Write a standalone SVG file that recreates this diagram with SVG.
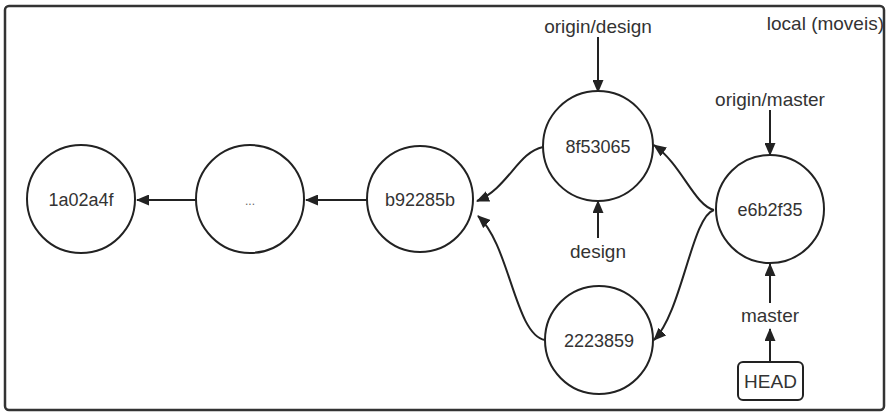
<svg xmlns="http://www.w3.org/2000/svg" width="888" height="415" viewBox="0 0 888 415">
<defs>
<marker id="ah" viewBox="0 0 13 11" refX="12" refY="5.5" markerWidth="13" markerHeight="11" markerUnits="userSpaceOnUse" orient="auto">
<path d="M0,0 L13,5.5 L0,11 Z" fill="#222"/>
</marker>
<style>
.n{fill:#fff;stroke:#222;stroke-width:2}
.t{font-family:"Liberation Sans",Arial,sans-serif;font-size:18px;fill:#333;text-anchor:middle}
.l{font-size:19px}
.c{fill:none;stroke:#222;stroke-width:2;marker-end:url(#ah)}
</style>
</defs>
<rect x="0" y="0" width="888" height="415" fill="#fff"/>
<rect id="frame" x="5" y="6" width="879" height="404" rx="4" fill="#fff" stroke="#333" stroke-width="2.5"/>
<text class="t l" x="884" y="30" style="text-anchor:end">local (moveis)</text>
<g id="connectors">
<line class="c" x1="197" y1="200" x2="137" y2="200"/>
<line class="c" x1="367" y1="200" x2="306" y2="200"/>
<path class="c" d="M543,147 C518,152 508,188 477,201"/>
<path class="c" d="M545,340 C515,335 510,245 478,216"/>
<path class="c" d="M714,210 C694,205 682,165 654,145"/>
<path class="c" d="M714,210 C692,216 682,312 654,340"/>
<line class="c" x1="598" y1="37" x2="598" y2="92"/>
<line class="c" x1="598" y1="238" x2="598" y2="201"/>
<line class="c" x1="770" y1="110" x2="770" y2="155"/>
<line class="c" x1="770" y1="303" x2="770" y2="264"/>
<line class="c" x1="770" y1="362" x2="770" y2="329"/>
</g>
<g id="n1a02a4f"><circle class="n" cx="81" cy="199" r="54"/><text class="t" x="81" y="206">1a02a4f</text></g>
<g id="ndots"><circle class="n" cx="250" cy="199" r="54"/><text class="t" x="250" y="205" style="font-size:12px;fill:#666">...</text></g>
<g id="nb92285b"><circle class="n" cx="420" cy="199" r="53"/><text class="t" x="420" y="206">b92285b</text></g>
<g id="n8f53065"><circle class="n" cx="598" cy="146" r="55"/><text class="t" x="598" y="153">8f53065</text></g>
<g id="ne6b2f35"><circle class="n" cx="770" cy="209" r="54"/><text class="t" x="770" y="216">e6b2f35</text></g>
<g id="n2223859"><circle class="n" cx="599" cy="340" r="54"/><text class="t" x="599" y="347">2223859</text></g>
<g id="lorigindesign"><text class="t l" x="598" y="33">origin/design</text></g>
<g id="ldesign"><text class="t l" x="598" y="258">design</text></g>
<g id="loriginmaster"><text class="t l" x="770" y="106">origin/master</text></g>
<g id="lmaster"><text class="t l" x="770" y="322">master</text></g>
<g id="nHEAD"><rect x="738" y="362" width="65" height="38" rx="5" fill="#fff" stroke="#222" stroke-width="2"/><text class="t l" x="770.5" y="388">HEAD</text></g>
</svg>
